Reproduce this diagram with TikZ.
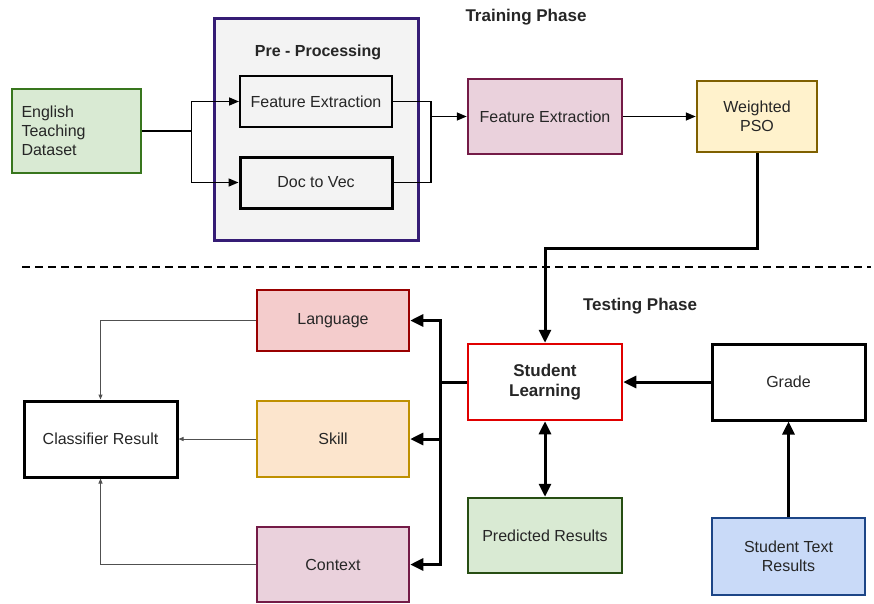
\documentclass[tikz,border=0pt]{standalone}
\usepackage{fontspec}
\setmainfont{Liberation Sans}
\usetikzlibrary{arrows.meta}
\definecolor{gfill}{HTML}{D9EAD3}
\definecolor{gdraw}{HTML}{38761D}
\definecolor{gdrawb}{HTML}{274E13}
\definecolor{pfill}{HTML}{F3F3F3}
\definecolor{pdraw}{HTML}{351C75}
\definecolor{mfill}{HTML}{EAD1DC}
\definecolor{mdraw}{HTML}{741B47}
\definecolor{yfill}{HTML}{FFF2CC}
\definecolor{ydraw}{HTML}{7F6000}
\definecolor{rdraw}{HTML}{E00000}
\definecolor{lfill}{HTML}{F4CCCC}
\definecolor{ldraw}{HTML}{990000}
\definecolor{sfill}{HTML}{FCE5CD}
\definecolor{sdraw}{HTML}{BF9000}
\definecolor{bfill}{HTML}{C9DAF8}
\definecolor{bdraw}{HTML}{1C4587}
\definecolor{thingray}{HTML}{505050}
\tikzset{
  box/.style={draw, line width=2.5pt, inner sep=0pt, align=center,
    font=\fontsize{16}{19}\selectfont, text=black!85},
  title/.style={font=\fontsize{17}{20}\selectfont\bfseries, text=black!85},
  midarrow/.style={line width=1.5pt, -{Triangle[length=10pt,width=8pt]}},
  midline/.style={line width=1.5pt},
  bigarrow/.style={line width=3pt, -{Triangle[length=13pt,width=12pt]}},
  bigline/.style={line width=3pt},
  thinarrow/.style={line width=1pt, draw=thingray, -{Triangle[length=5pt,width=4pt]}},
}
\begin{document}
\begin{tikzpicture}[x=1pt,y=-1pt]
\useasboundingbox (0,0) rectangle (874,603);
% training phase
\node[title] (train) at (526,17) {Training Phase};
\node[box, fill=gfill, draw=gdraw, minimum width=129, minimum height=84,
      text width=110, inner xsep=9.5, align=left] (ds) at (76.5,131) {English\\Teaching\\Dataset};
\node[box, fill=pfill, draw=pdraw, line width=3pt, minimum width=204, minimum height=222] (pre) at (316,129) {};
\node[title, font=\fontsize{16}{19}\selectfont\bfseries] (pret) at (318,52) {Pre - Processing};
\node[box, fill=pfill, draw=black, line width=2pt, minimum width=152, minimum height=51] (fe1) at (316,101.5) {Feature Extraction};
\node[box, fill=pfill, draw=black, line width=3pt, minimum width=152, minimum height=51] (d2v) at (316,182.5) {Doc to Vec};
\node[box, fill=mfill, draw=mdraw, minimum width=154, minimum height=75] (fe2) at (545,116.5) {Feature Extraction};
\node[box, fill=yfill, draw=ydraw, minimum width=120, minimum height=71] (pso) at (757,116.5) {Weighted\\PSO};
\draw[midarrow] (ds.east) -- ++(49,0) |- (fe1.west);
\draw[midarrow] (ds.east) -- ++(49,0) |- (d2v.west);
\draw[midline] (fe1.east) -- ++(38,0) |- (d2v.east);
\coordinate (mj) at (430,116.5);
\draw[midarrow] (mj) -- (fe2.west);
\draw[midarrow] (fe2.east) -- (pso.west);
% separator
\draw[line width=1.5pt, dash pattern=on 8pt off 5pt] (22,267) -- (871,267);
% testing phase
\node[title] (test) at (640,306) {Testing Phase};
\node[box, fill=white, draw=rdraw, minimum width=154, minimum height=76,
      font=\fontsize{17}{20}\selectfont\bfseries] (sl) at (545,382) {Student\\Learning};
\node[box, fill=white, draw=black, line width=3pt, minimum width=153, minimum height=76] (grade) at (788.5,382) {Grade};
\node[box, fill=gfill, draw=gdrawb, minimum width=154, minimum height=75] (pr) at (545,535.5) {Predicted Results};
\node[box, fill=bfill, draw=bdraw, minimum width=153, minimum height=77] (str) at (788.5,556.5) {Student Text\\Results};
\node[box, fill=lfill, draw=ldraw, minimum width=152, minimum height=61] (lang) at (333,320.5) {Language};
\node[box, fill=sfill, draw=sdraw, minimum width=152, minimum height=76] (skill) at (333,439) {Skill};
\node[box, fill=mfill, draw=mdraw, minimum width=152, minimum height=75] (ctx) at (333,564.5) {Context};
\node[box, fill=white, draw=black, line width=3pt, minimum width=153, minimum height=76] (cr) at (100.5,439) {Classifier Result};
\draw[bigarrow] (pso.south) -- ++(0,95) -| (sl.north);
\draw[bigarrow] (grade.west) -- (sl.east);
\draw[bigarrow] (str.north) -- (grade.south);
\draw[bigline, {Triangle[length=13pt,width=12pt]}-{Triangle[length=13pt,width=12pt]}] (sl.south) -- (pr.north);
\coordinate (bus) at (440,382);
\draw[bigline] (sl.west) -- (bus);
\draw[bigarrow] (bus) |- (lang.east);
\draw[bigarrow] (bus) |- (skill.east);
\draw[bigarrow] (bus) |- (ctx.east);
\draw[thinarrow] (lang.west) -| (cr.north);
\draw[thinarrow] (skill.west) -- (cr.east);
\draw[thinarrow] (ctx.west) -| (cr.south);
\end{tikzpicture}
\end{document}
